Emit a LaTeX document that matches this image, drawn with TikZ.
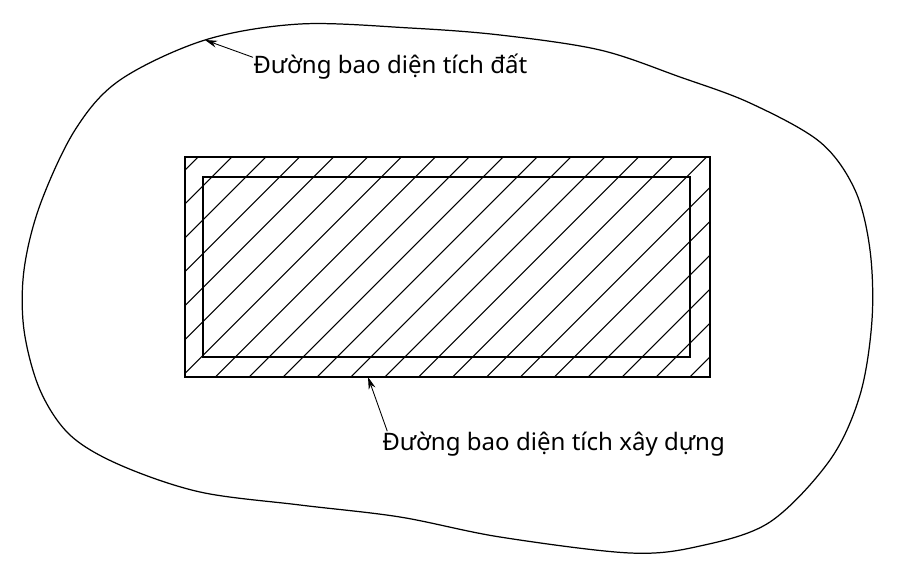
\documentclass[tikz,border=0pt]{standalone}
\usepackage{fontspec}
\setmainfont{Noto Sans}
\usetikzlibrary{arrows.meta}

\begin{document}
\begin{tikzpicture}[x=0.02cm, y=-0.02cm,
    lbl/.style={font=\fontsize{13.7}{16}\selectfont, inner sep=0pt, anchor=base west},
    wall/.style={line width=1pt},
    hatch/.style={line width=0.6pt},
    boundary/.style={line width=0.7pt},
    pointer/.style={-{Stealth[length=7pt,width=4pt]}, line width=0.5pt}]
    \useasboundingbox (0,0) rectangle (900,585);

    % Land boundary
    \draw[boundary] plot[smooth cycle, tension=0.55] coordinates {
        (205,40) (300,24) (410,28) (500,35) (600,50) (680,77) (750,103)
        (820,142) (855,190) (870,250) (872,320) (860,395) (830,460) (770,522)
        (700,546) (630,553) (500,537) (400,517) (300,505) (200,492)
        (120,465) (70,435) (40,390) (24,330) (24,270) (40,205) (75,130)
        (120,80)};
    \coordinate (dat-pt) at (205,40);

    % Hatching
    \begin{scope}
        \clip (185,157) rectangle (710,377);
        \foreach \k in {0,...,21}
            \draw[hatch] ({355+33.9*\k-400},400) -- ({355+33.9*\k-140},140);
    \end{scope}

    % Building
    \draw[wall] (185,157) rectangle (710,377);
    \draw[wall] (203,177) rectangle (690,357);
    \coordinate (xd-pt) at (368,377);

    % Labels
    \node[lbl] (lbl-dat) at (253,73) {Đường bao diện tích đất};
    \node[lbl] (lbl-xd) at (382,450) {Đường bao diện tích xây dựng};

    % Pointers
    \draw[pointer] ([yshift=5pt]lbl-dat.west) -- (dat-pt);
    \draw[pointer] ([xshift=3pt]lbl-xd.north west) -- (xd-pt);
\end{tikzpicture}
\end{document}
